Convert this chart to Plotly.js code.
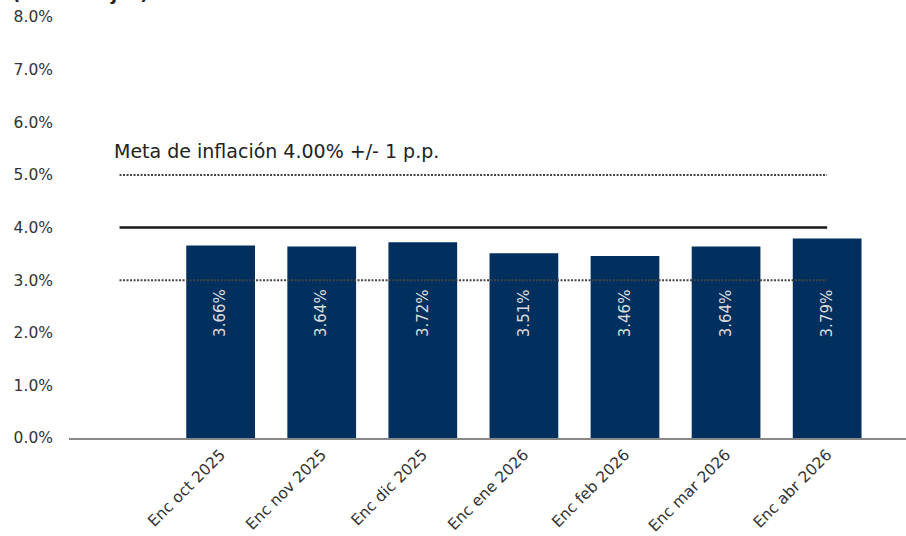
<!DOCTYPE html>
<html>
<head>
<meta charset="utf-8">
<script src="https://cdn.plot.ly/plotly-3.0.1.min.js"></script>
<style>html,body{margin:0;padding:0;background:#fff;}#chart{width:906px;height:536px;}</style>
</head>
<body>
<div id="chart"></div>
<script>
const categories = ["Enc oct 2025","Enc nov 2025","Enc dic 2025","Enc ene 2026","Enc feb 2026","Enc mar 2026","Enc abr 2026"];
const values = [3.66, 3.64, 3.72, 3.51, 3.46, 3.64, 3.79];
const targetCenter = 4.0;
const targetUpper = 5.0;
const targetLower = 3.0;
const labelLevel = 2.37;
const yTicks = [0,1,2,3,4,5,6,7,8];

const xPos = categories.map((c, i) => i + 1);
const lineX = [0, categories.length];
const font = "'DejaVu Sans', 'Noto Sans', sans-serif";

const traces = [
  {type: 'bar', x: xPos, y: values, width: 0.68, marker: {color: '#02305e', line: {width: 0}}, hoverinfo: 'skip'},
  {type: 'scatter', mode: 'lines', x: lineX, y: [targetUpper, targetUpper], line: {color: '#444', width: 2, dash: '2px,1.5px'}, hoverinfo: 'skip'},
  {type: 'scatter', mode: 'lines', x: lineX, y: [targetCenter, targetCenter], line: {color: '#1a1a1a', width: 2.6}, hoverinfo: 'skip'},
  {type: 'scatter', mode: 'lines', x: lineX, y: [targetLower, targetLower], line: {color: '#444', width: 2, dash: '2px,1.5px'}, hoverinfo: 'skip'}
];

const pw = 906 - 69, ph = 536 - 17 - 98;
const annotations = values.map((v, i) => ({
  x: xPos[i], y: labelLevel, xref: 'x', yref: 'y', text: v.toFixed(2) + '%',
  showarrow: false, textangle: -90, font: {family: font, size: 15, color: '#dcdcdc'}
}));
annotations.push({
  x: (112 - 69) / pw, y: (536 - 98 - 151) / ph, xref: 'paper', yref: 'paper', text: 'Meta de inflación 4.00% +/- 1 p.p.',
  showarrow: false, xanchor: 'left', yanchor: 'middle', font: {family: font, size: 19, color: '#222'}
});
annotations.push({
  x: (10 - 69) / pw, y: (536 - 98 - 6) / ph, xref: 'paper', yref: 'paper', text: '<b>(Porcentajes)</b>',
  showarrow: false, xanchor: 'left', yanchor: 'bottom', font: {family: font, size: 18, color: '#222'}
});

const layout = {
  width: 906, height: 536,
  margin: {l: 69, r: 0, t: 17, b: 98},
  paper_bgcolor: '#fff', plot_bgcolor: '#fff',
  showlegend: false,
  xaxis: {
    range: [-0.5, 7.78], tickvals: xPos, ticktext: categories, tickangle: -45,
    showgrid: false, zeroline: false, showline: true, linecolor: '#888', linewidth: 1.5,
    ticks: '', tickfont: {family: font, size: 15.5, color: '#333'}
  },
  yaxis: {
    range: [0, 8], tickvals: yTicks, ticktext: yTicks.map(t => t.toFixed(1) + '%'),
    showgrid: false, zeroline: false, showline: false, ticks: '',
    ticklabelstandoff: 15,
    tickfont: {family: font, size: 15.5, color: '#333'}
  },
  annotations: annotations
};

Plotly.newPlot('chart', traces, layout, {displayModeBar: false, staticPlot: true});
</script>
</body>
</html>
